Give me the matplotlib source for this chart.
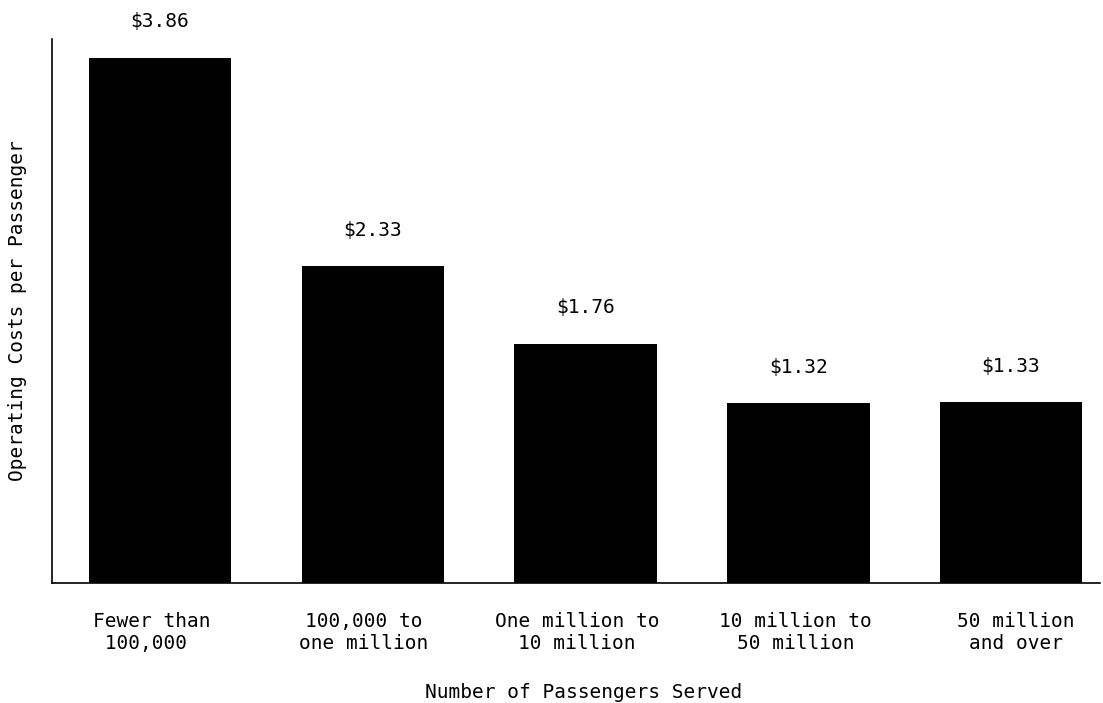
import matplotlib
matplotlib.use("Agg")
import matplotlib.pyplot as plt

categories = ["Fewer than\n 100,000", "100,000 to\none million", "One million to\n10 million",
              "10 million to\n50 million", "50 million\nand over"]
values = [3.86, 2.33, 1.76, 1.32, 1.33]
value_labels = ["$3.86", "$2.33", "$1.76", "$1.32", "$1.33"]

plt.rcParams['font.family'] = ['DejaVu Sans Mono']

fig = plt.figure(figsize=(11.03, 7.03), dpi=100)
ax = fig.add_axes([52/1103, 120/703, 1048/1103, 544/703])

x = list(range(len(categories)))
bars = ax.bar(x, values, width=0.67, color='black')

for xi, v, lab in zip(x, values, value_labels):
    ax.annotate(lab.replace("$", r"\$"), (xi, v), xytext=(0, 26), textcoords='offset points',
                ha='center', va='center', fontsize=14)

ax.set_xlim(-0.508, 4.418)
ax.set_ylim(0, 4.0)
ax.set_xticks(x)
ax.set_xticklabels([])
ax.tick_params(axis='x', length=0)

# category labels under each bar (small horizontal offsets as in the original typesetting)
label_shift_pt = [-6.2, -6.5, -6.2, -2.2, 3.6]
for i, (xi, cat, dx) in enumerate(zip(x, categories, label_shift_pt)):
    ax.annotate(cat, (xi, 0), xycoords=('data', 'axes fraction'),
                xytext=(dx, -21), textcoords='offset points',
                ha='center', va='top', fontsize=14,
                multialignment='left' if i == 0 else 'center', annotation_clip=False)

ax.set_yticks([])
ax.spines['top'].set_visible(False)
ax.spines['right'].set_visible(False)
ax.spines['left'].set_linewidth(1.2)
ax.spines['bottom'].set_linewidth(1.2)

ax.set_xlabel("Number of Passengers Served", fontsize=14)
ax.xaxis.set_label_coords(0.507, -0.184)
ax.set_ylabel("Operating Costs per Passenger", fontsize=14)
ax.yaxis.set_label_coords(-0.024, 0.5)

fig.savefig("out.png", dpi=100)
